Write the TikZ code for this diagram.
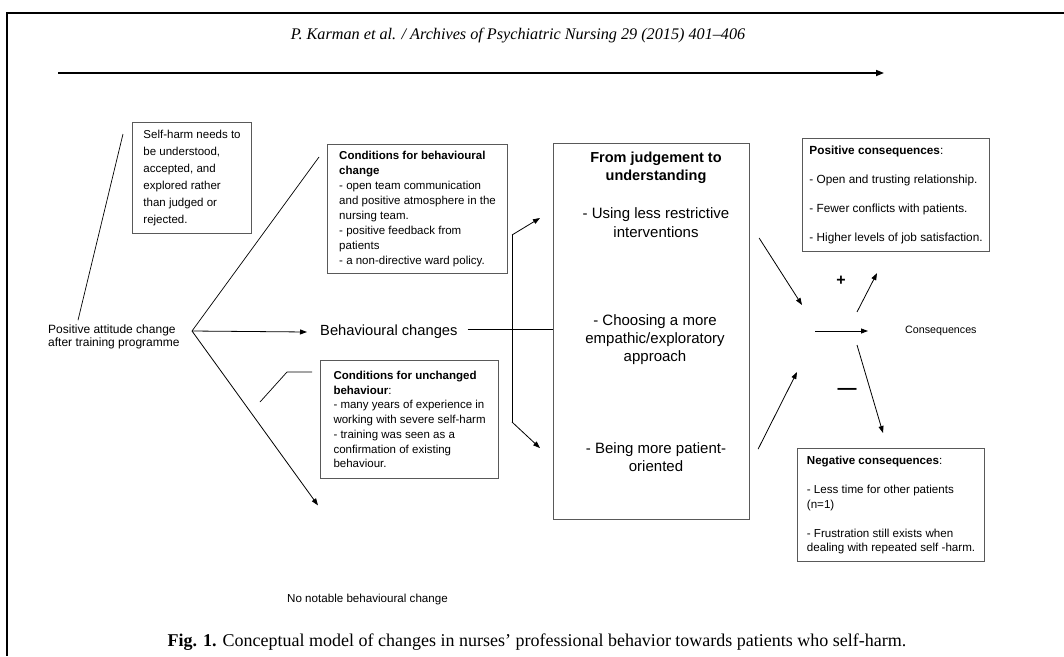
\documentclass[tikz,border=0pt]{standalone}
\usepackage{fontspec}
\setmainfont{Liberation Serif}
\setsansfont{Liberation Sans}
\usetikzlibrary{positioning}
\usetikzlibrary{arrows.meta}
\usetikzlibrary{calc}

\begin{document}
\begin{tikzpicture}[x=1pt,y=-1pt,
        every node/.style={font=\sffamily},
        box/.style={draw=black!65, line width=1.1pt, align=left, anchor=north west},
        arr/.style={-{Triangle[length=7pt,width=5pt]}, line width=0.8pt},
        ln/.style={line width=0.7pt}]
    \useasboundingbox (0,0) rectangle (1064,656);
    \draw[line width=2.2pt] (1064,13) -- (7,13) -- (7,656);
    \node[font=\rmfamily\itshape\fontsize{16.2}{18}\selectfont] (head) at (518,36)
        {P. Karman et al. / Archives of Psychiatric Nursing 29 (2015) 401--406};
    \coordinate (t0) at (58,73);
    \coordinate (t1) at (884,73);
    \draw[-{Triangle[length=8pt,width=6pt]}, line width=1.6pt] (t0) -- (t1);

    \node[anchor=west, align=left, inner sep=1.5pt, font=\sffamily\fontsize{12}{13}\selectfont] (pa) at (46.5,337)
        {Positive attitude change\\after training programme};
    \coordinate (fork) at (192,331);

    \node[box, font=\sffamily\fontsize{11.5}{17}\selectfont, inner xsep=8.5pt, minimum width=119pt, minimum height=111pt] (sh) at (132,122)
        {Self-harm needs to\\be understood,\\accepted, and\\explored rather\\than judged or\\rejected.};
    \draw[ln] ($(pa.north west)+(31.5,-3)$) -- ($(sh.north west)+(-9,12)$);

    \node[box, font=\sffamily\fontsize{11.5}{15}\selectfont, inner xsep=8pt, minimum width=180pt, minimum height=129pt] (cb) at (327,144)
        {\textbf{Conditions for behavioural}\\\textbf{change}\\- open team communication\\and positive atmosphere in the\\nursing team.\\- positive feedback from\\patients\\- a non-directive ward policy.};
    \draw[ln] (fork) -- ($(cb.north west)+(-8,13)$);

    \node[anchor=west, inner sep=0pt, font=\sffamily\fontsize{14.7}{17}\selectfont] (bc) at (320,332) {Behavioural changes};
    \draw[arr] (fork) -- ($(bc.west)+(-13,0)$);

    \node[box, font=\sffamily\fontsize{11.5}{14.7}\selectfont, inner xsep=9.5pt, minimum width=178pt, minimum height=118pt] (cu) at (320,360)
        {\textbf{Conditions for unchanged}\\\textbf{behaviour}:\\- many years of experience in\\working with severe self-harm\\- training was seen as a\\confirmation of existing\\behaviour.};
    \draw[ln] ($(cu.north west)+(-60,42)$) -- ($(cu.north west)+(-33,12)$) -- ($(cu.north west)+(-8,12)$);

    \node[anchor=west, inner sep=0pt, font=\sffamily\fontsize{11.6}{14}\selectfont] (nn) at (287,599) {No notable behavioural change};
    \draw[arr] (fork) -- ($(nn.north west)+(31,-88)$);

    \node[box, minimum width=196pt, minimum height=376pt, inner sep=0pt] (mj) at (553,143) {};
    \node[font=\sffamily\bfseries\fontsize{14.5}{18}\selectfont, align=center] (mjhead) at (656,168) {From judgement to\\understanding};
    \node[font=\sffamily\fontsize{15}{18.5}\selectfont, align=center] (mj1) at (656,222.5) {- Using less restrictive\\interventions};
    \node[font=\sffamily\fontsize{15}{18}\selectfont, align=center] (mj2) at (655,339.5) {- Choosing a more\\empathic/exploratory\\approach};
    \node[font=\sffamily\fontsize{15}{18}\selectfont, align=center] (mj3) at (656,457) {- Being more patient-\\oriented};

    \coordinate (brtop) at (512,235);
    \coordinate (brbot) at (512,422);
    \coordinate (bcend) at ($(bc.east)+(10,-3)$);
    \draw[ln] (bcend) -- (bcend -| mj.west);
    \draw[ln] (brtop) -- (brbot);
    \draw[arr] (brtop) -- ($(mj.north west)+(-13,75)$);
    \draw[arr] (brbot) -- ($(mj.south west)+(-13,-72)$);

    \node[anchor=west, inner sep=0pt, font=\sffamily\fontsize{10.7}{13}\selectfont] (cq) at (905,331) {Consequences};
    \draw[arr] ($(mj.north east)+(9,95)$) -- ($(cq.west)+(-103,-26)$);
    \draw[arr] ($(mj.south east)+(8,-71)$) -- ($(cq.west)+(-108,41)$);
    \draw[arr] ($(cq.west)+(-90,0)$) -- ($(cq.west)+(-37,0)$);

    \node[box, font=\sffamily\fontsize{11.8}{14.5}\selectfont, inner xsep=6.5pt, minimum width=187pt, minimum height=113pt] (pc) at (802,138)
        {\textbf{Positive consequences}:\\[14.5pt]- Open and trusting relationship.\\[14.5pt]- Fewer conflicts with patients.\\[14.5pt]- Higher levels of job satisfaction.};
    \node[box, font=\sffamily\fontsize{11.6}{14.5}\selectfont, inner xsep=7pt, minimum width=187pt, minimum height=113pt] (nc) at (797,448)
        {\textbf{Negative consequences}:\\[14.5pt]- Less time for other patients\\(n=1)\\[14.5pt]- Frustration still exists when\\dealing with repeated self -harm.};

    \node[font=\sffamily\bfseries\fontsize{16}{18}\selectfont] (plus) at (841,281) {+};
    \node[font=\sffamily\bfseries\fontsize{19}{20}\selectfont] (minus) at (847,391) {—};
    \draw[arr] ($(cq.west)+(-48,-19)$) -- ($(pc.south west)+(75,21)$);
    \draw[arr] ($(cq.west)+(-48,14)$) -- ($(nc.north west)+(86,-15)$);

    \node[font=\rmfamily\fontsize{18}{20}\selectfont] (cap) at (537,642)
        {\textbf{Fig. 1.} Conceptual model of changes in nurses' professional behavior towards patients who self-harm.};
\end{tikzpicture}
\end{document}
